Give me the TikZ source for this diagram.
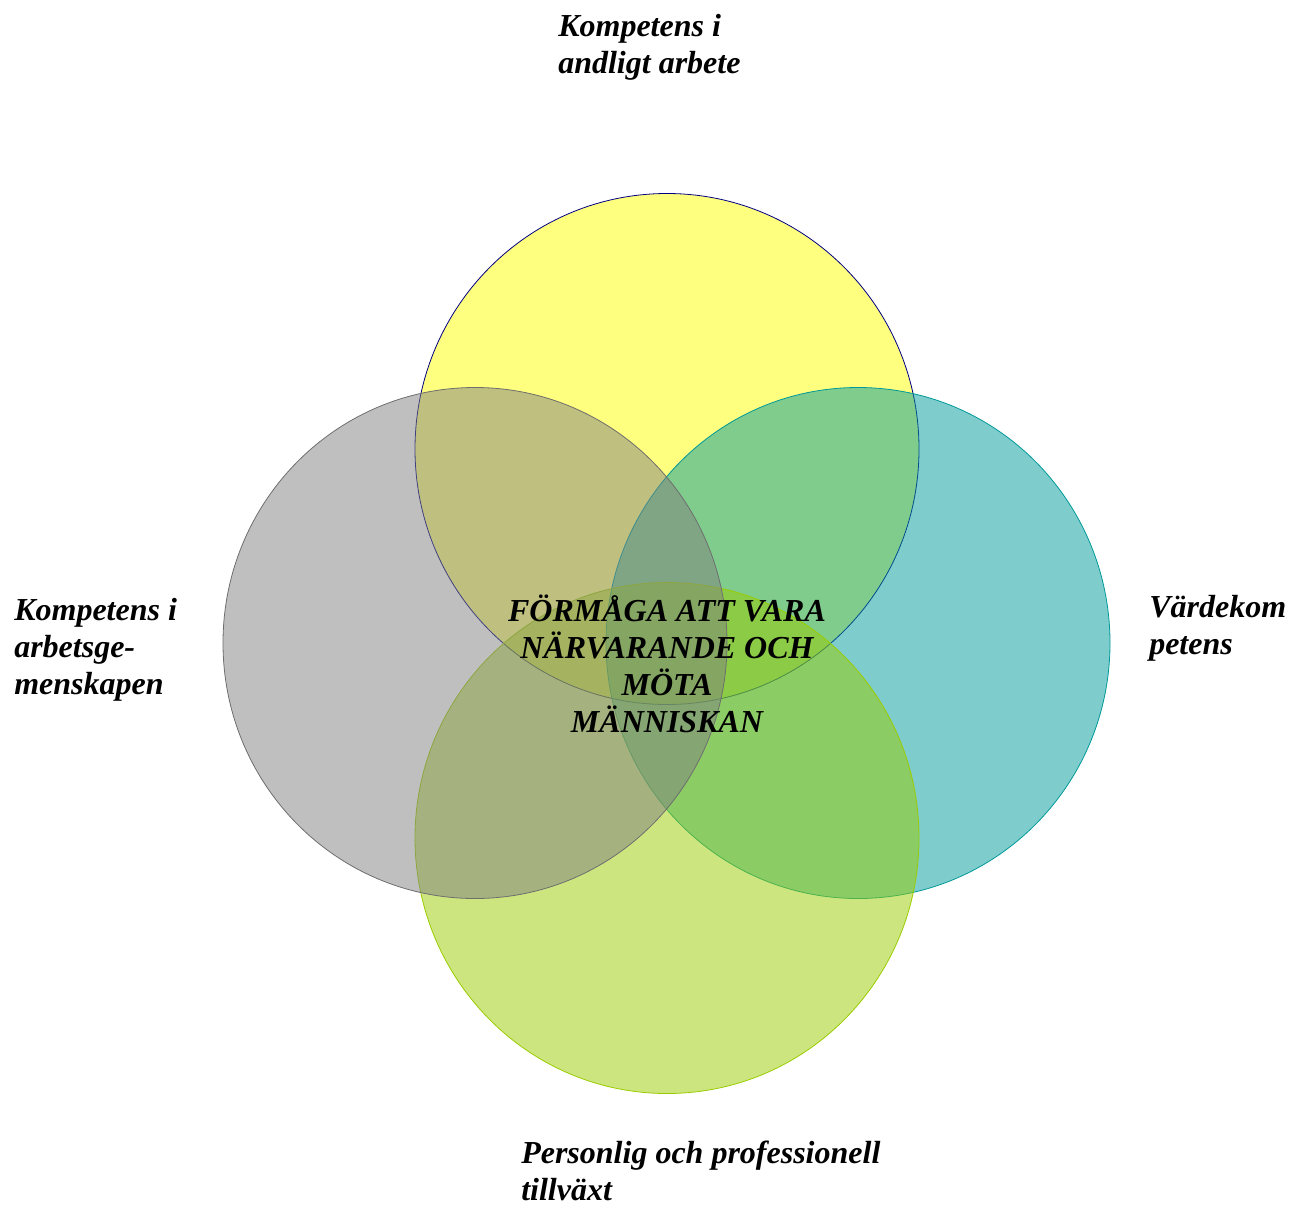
\documentclass[tikz,border=0pt]{standalone}
\usepackage{fontspec}
\setmainfont{Liberation Serif}
\usepackage{tikz}
\usetikzlibrary{positioning}
\definecolor{ringyellow}{HTML}{FFFF00}
\definecolor{ringteal}{HTML}{009999}
\definecolor{ringlime}{HTML}{99CC00}
\definecolor{ringgray}{HTML}{808080}
\definecolor{edgenavy}{HTML}{000080}
\definecolor{edgegray}{HTML}{6E6E6E}
\tikzstyle{ring}=[fill opacity=.5,line width=.6pt]
\tikzstyle{lbl}=[inner sep=0pt,align=left,anchor=base west,font={\fontsize{24}{27.75}\selectfont\bfseries\itshape}]
\tikzstyle{core}=[lbl,align=center,anchor=base]

\begin{document}
\begin{tikzpicture}[x=.75pt,y=-.75pt]
    \useasboundingbox (0,0) rectangle (1295,1207);
    % top, right, bottom, left -- in that stacking order
    \foreach \cx/\cy/\f/\e in {667/449/ringyellow/edgenavy, 858/643/ringteal/ringteal, 667/838/ringlime/ringlime, 475/643/ringgray/edgegray} {
        \filldraw[ring,fill=\f,draw=\e] (\cx,\cy) ellipse[x radius=252,y radius=255.5];}
    % multi-line labels sit on the baseline of their last line
    \node[lbl] (spirit) at (558,73) {Kompetens i\\andligt arbete};
    \node[lbl] (team) at (14,694) {Kompetens i\\arbetsge-\\menskapen};
    \node[lbl] (values) at (1149,654) {Värdekom\\petens};
    \node[lbl] (growth) at (521,1200) {Personlig och professionell\\tillväxt};
    \node[core] (meet) at (667,732) {FÖRMÅGA ATT VARA\\NÄRVARANDE OCH\\MÖTA\\MÄNNISKAN};
\end{tikzpicture}
\end{document}
